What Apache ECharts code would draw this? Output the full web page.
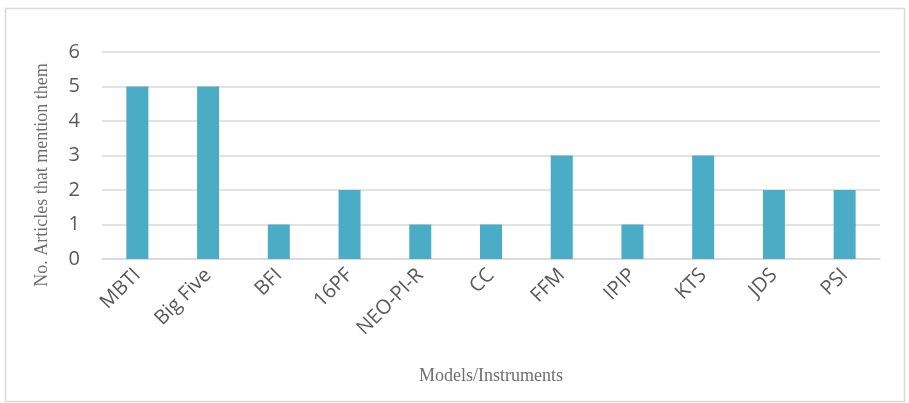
<!DOCTYPE html>
<html>
<head>
<meta charset="utf-8">
<script src="https://cdn.jsdelivr.net/npm/echarts@6/dist/echarts.min.js"></script>
<style>
  html, body { margin: 0; padding: 0; background: #fff; }
  #chart { width: 909px; height: 403px; }
</style>
</head>
<body>
<div id="chart"></div>
<script>
// Personality models / instruments and how many articles mention each
const categories = ['MBTI', 'Big Five', 'BFI', '16PF', 'NEO-PI-R', 'CC', 'FFM', 'IPIP', 'KTS', 'JDS', 'PSI'];
const articleCounts = [5, 5, 1, 2, 1, 1, 3, 1, 3, 2, 2];
const yTicks = [0, 1, 2, 3, 4, 5, 6];
const xTitle = 'Models/Instruments';
const yTitle = 'No. Articles that mention them';

const chart = echarts.init(document.getElementById('chart'), null, { renderer: 'canvas' });

const titleFont = { fontFamily: '"Liberation Serif", serif', fontSize: 18, fill: '#6f6f6f' };

chart.setOption({
  animation: false,
  backgroundColor: '#ffffff',
  graphic: [
    {
      type: 'rect',
      shape: { x: 5.5, y: 8.5, width: 899, height: 393 },
      style: { fill: 'none', stroke: '#d9d9d9', lineWidth: 1.5 },
      silent: true
    },
    {
      type: 'text',
      x: 42, y: 175,
      rotation: Math.PI / 2,
      style: Object.assign({ text: yTitle, align: 'center', verticalAlign: 'middle' }, titleFont),
      silent: true
    },
    {
      type: 'text',
      x: 491, y: 376,
      style: Object.assign({ text: xTitle, align: 'center', verticalAlign: 'middle' }, titleFont),
      silent: true
    }
  ],
  grid: { left: 102, right: 29, top: 52, bottom: 144, containLabel: false },
  xAxis: {
    type: 'category',
    data: categories,
    axisLine: { show: true, lineStyle: { color: '#d9d9d9', width: 1.5 } },
    axisTick: { show: false },
    axisLabel: {
      rotate: 45,
      margin: 13,
      interval: 0,
      fontFamily: '"Open Sans", sans-serif',
      fontSize: 20,
      color: '#595959'
    }
  },
  yAxis: {
    type: 'value',
    min: yTicks[0],
    max: yTicks[yTicks.length - 1],
    interval: 1,
    axisLine: { show: false },
    axisTick: { show: false },
    axisLabel: {
      margin: 22,
      fontFamily: '"Open Sans", sans-serif',
      fontSize: 20,
      color: '#595959'
    },
    splitLine: { lineStyle: { color: '#d9d9d9', width: 1.5 } }
  },
  series: [{
    type: 'bar',
    data: articleCounts,
    barWidth: 22,
    itemStyle: { color: '#4bacc6' }
  }]
});
</script>
</body>
</html>
